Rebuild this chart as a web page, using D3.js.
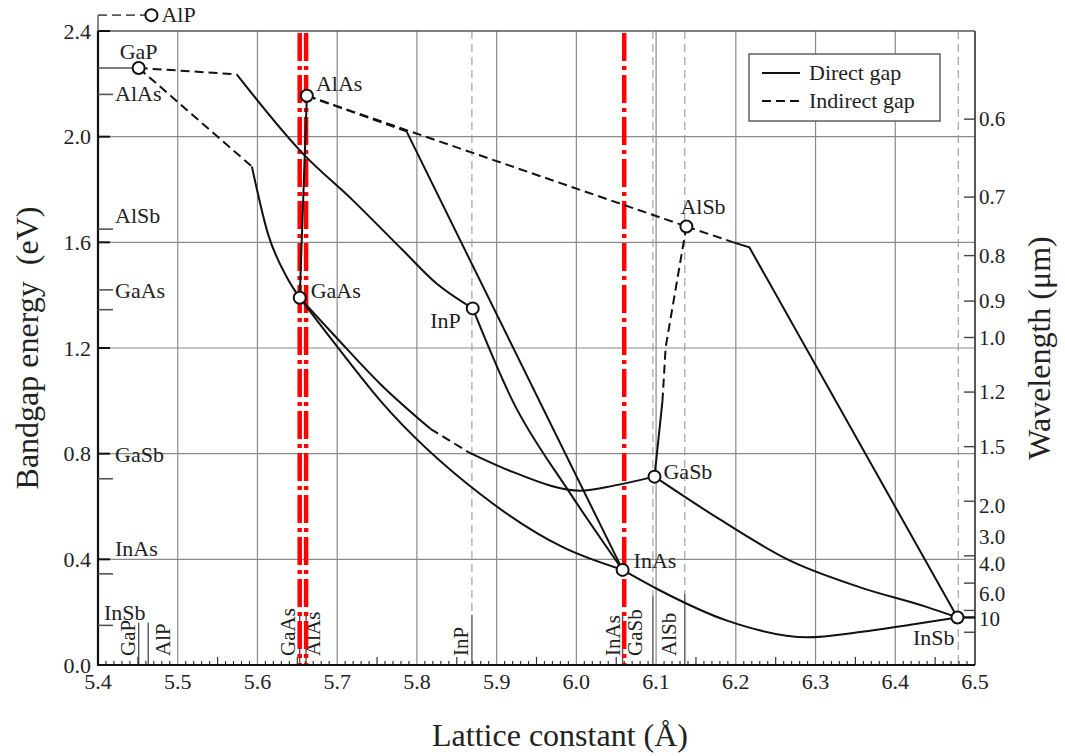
<!DOCTYPE html>
<html>
<head>
<meta charset="utf-8">
<script src="https://cdn.jsdelivr.net/npm/d3@7"></script>
<style>
  body { margin: 0; background: #fff; }
  text { font-family: "Liberation Serif", "Times New Roman", serif; fill: #222; }
</style>
</head>
<body>
<svg id="chart" width="1065" height="756"></svg>
<script>
// ---- axis ticks ----
const latticeTicks = [5.4, 5.5, 5.6, 5.7, 5.8, 5.9, 6.0, 6.1, 6.2, 6.3, 6.4, 6.5];
const latticeTickLabels = ["5.4", "5.5", "5.6", "5.7", "5.8", "5.9", "6.0", "6.1", "6.2", "6.3", "6.4", "6.5"];
const energyTicks = [0, 0.4, 0.8, 1.2, 1.6, 2.0, 2.4];
const energyTickLabels = ["0.0", "0.4", "0.8", "1.2", "1.6", "2.0", "2.4"];
const wavelengthTicks = [0.6, 0.7, 0.8, 0.9, 1.0, 1.2, 1.5, 2.0, 3.0, 4.0, 6.0, 10];
const wavelengthTickLabels = ["0.6", "0.7", "0.8", "0.9", "1.0", "1.2", "1.5", "2.0", "3.0", "4.0", "6.0", "10"];

// ---- binary compounds (lattice constant in Å, bandgap in eV) ----
const compoundNames = ["GaP", "AlP", "AlAs", "GaAs", "InP", "AlSb", "GaSb", "InAs", "InSb"];
const compoundLattice = [5.451, 5.467, 5.662, 5.653, 5.870, 6.138, 6.098, 6.058, 6.478];
const compoundGap = [2.26, 2.46, 2.155, 1.39, 1.35, 1.66, 0.713, 0.36, 0.18];

// ---- bandgap marks on the energy axis ----
const axisMarkNames = ["AlAs", "AlSb", "GaAs", "", "GaSb", "InAs", "InSb"];
const axisMarkGap = [2.16, 1.65, 1.42, 1.345, 0.705, 0.345, 0.15];

// ---- lattice-constant reference lines along the bottom ----
const refNames = ["GaP", "AlP", "GaAs", "AlAs", "InP", "InAs", "GaSb", "AlSb", "InSb"];
const refLattice = [5.451, 5.463, 5.653, 5.661, 5.869, 6.058, 6.096, 6.136, 6.479];

// ---- lattice-matching lines ----
const matchLattice = [5.653, 5.661, 6.06];

// ---- ternary alloy curves [lattice, gap] ----
const gaInP_indirect = [[5.451, 2.26], [5.574, 2.236]];
const gaInP_direct = [[5.574, 2.236], [5.657, 1.936], [5.720, 1.758], [5.783, 1.568], [5.825, 1.443], [5.870, 1.35]];
const gaAsP_indirect = [[5.451, 2.26], [5.593, 1.887]];
const gaAsP_direct = [[5.593, 1.887], [5.613, 1.634], [5.637, 1.467], [5.653, 1.39]];
const alGaAs_direct = [[5.653, 1.39], [5.662, 2.155]];
const alAsSb_indirect = [[5.662, 2.155], [6.138, 1.66]];
const alInAs_indirect = [[5.662, 2.155], [5.787, 2.02]];
const alInAs_direct = [[5.787, 2.02], [6.058, 0.36]];
const inGaAs_direct = [[5.653, 1.39], [5.70, 1.205], [5.754, 1.001], [5.879, 0.648], [5.983, 0.446], [6.058, 0.36]];
const gaAsSb_directA = [[5.653, 1.39], [5.70, 1.236], [5.754, 1.064], [5.817, 0.894]];
const gaAsSb_indirect = [[5.817, 0.894], [5.865, 0.805]];
const gaAsSb_directB = [[5.865, 0.805], [5.921, 0.730], [6.005, 0.660], [6.047, 0.679], [6.098, 0.713]];
const inAsP_direct = [[5.870, 1.35], [5.92, 1.0], [5.99, 0.66], [6.058, 0.36]];
const alGaSb_indirect = [[6.138, 1.66], [6.112, 1.203], [6.108, 1.0]];
const alGaSb_direct = [[6.108, 1.0], [6.098, 0.713]];
const alInSb_indirect = [[6.138, 1.66], [6.197, 1.60]];
const alInSb_direct = [[6.197, 1.60], [6.217, 1.581], [6.478, 0.18]];
const gaInSb_direct = [[6.098, 0.713], [6.18, 0.551], [6.268, 0.395], [6.356, 0.294], [6.44, 0.219], [6.478, 0.18]];
const inAsSb_direct = [[6.058, 0.36], [6.105, 0.282], [6.189, 0.168], [6.29, 0.105], [6.356, 0.125], [6.419, 0.152], [6.478, 0.18]];

const directCurves = [gaInP_direct, gaAsP_direct, alGaAs_direct, alInAs_direct, inGaAs_direct,
  gaAsSb_directA, gaAsSb_directB, inAsP_direct, alGaSb_direct, alInSb_direct, gaInSb_direct, inAsSb_direct];
const indirectCurves = [gaInP_indirect, gaAsP_indirect, alAsSb_indirect, alInAs_indirect,
  gaAsSb_indirect, alGaSb_indirect, alInSb_indirect];
// polylines drawn with straight segments (kinked, not smoothed)
const straightCurves = new Set([alInSb_direct, alGaSb_indirect, alGaSb_direct]);

// ---- drawing ----
const svg = d3.select("#chart");
const PL = 98, PR = 975, PT = 31, PB = 665;
const x = d3.scaleLinear().domain([5.4, 6.5]).range([PL, PR]);
const y = d3.scaleLinear().domain([0, 2.4]).range([PB, PT]);
const hc = 1.2398; // eV·µm
const FONT = 22;

// grid
const grid = svg.append("g");
grid.selectAll("line.v").data(latticeTicks.slice(1, -1)).join("line")
  .attr("x1", d => x(d)).attr("x2", d => x(d)).attr("y1", PT).attr("y2", PB)
  .attr("stroke", "#8a8a8a").attr("stroke-width", 1.2);
grid.selectAll("line.h").data(energyTicks.slice(1)).join("line")
  .attr("x1", PL).attr("x2", PR).attr("y1", d => y(d)).attr("y2", d => y(d))
  .attr("stroke", d => d === 2.4 ? "#555" : "#8a8a8a").attr("stroke-width", d => d === 2.4 ? 1.6 : 1.2);

// reference lines: short solid foot, dashed continuation for some compounds
const dashedUp = new Set(["InP", "GaSb", "AlSb", "InSb"]);
const footTop = { GaP: 0.16, AlP: 0.16, GaAs: 0.2, AlAs: 0.2, InP: 0.19, InAs: 0.2, GaSb: 0.26, AlSb: 0.27, InSb: 0 };
const refs = svg.append("g");
refNames.forEach((n, i) => {
  const xx = x(refLattice[i]);
  if (dashedUp.has(n)) {
    refs.append("line").attr("x1", xx).attr("x2", xx).attr("y1", PT).attr("y2", y(footTop[n]))
      .attr("stroke", "#9a9a9a").attr("stroke-width", 1.1).attr("stroke-dasharray", "8,5");
  }
  if (footTop[n] > 0) {
    refs.append("line").attr("x1", xx).attr("x2", xx).attr("y1", y(footTop[n])).attr("y2", PB)
      .attr("stroke", "#555").attr("stroke-width", 1.4);
  }
});
// rotated compound names at the bottom
const footLabelDx = { GaP: -4, AlP: 22, GaAs: -5, AlAs: 14, InP: -4, InAs: -3, GaSb: -11, AlSb: -9 };
refNames.forEach((n, i) => {
  if (!(n in footLabelDx)) return;
  const xx = x(refLattice[i]) + footLabelDx[n];
  refs.append("text").attr("transform", `translate(${xx},${PB - 9}) rotate(-90)`)
    .attr("font-size", 21).text(n);
});

// x-axis minor ticks
const minor = d3.range(0, 111).map(k => 5.4 + k * 0.01);
svg.append("g").selectAll("line").data(minor).join("line")
  .attr("x1", d => x(d)).attr("x2", d => x(d)).attr("y1", PB)
  .attr("y2", (d, k) => PB - (k % 10 === 0 ? 0 : (k % 5 === 0 ? 8 : 4)))
  .attr("stroke", "#333").attr("stroke-width", 1.2);

// right axis (wavelength)
svg.append("line").attr("x1", PR).attr("x2", PR).attr("y1", PT).attr("y2", PB)
  .attr("stroke", "#444").attr("stroke-width", 1.8);
svg.append("g").selectAll("line").data(wavelengthTicks).join("line")
  .attr("x1", PR - 11).attr("x2", PR).attr("y1", d => y(hc / d)).attr("y2", d => y(hc / d))
  .attr("stroke", "#444").attr("stroke-width", 1.4);
// crowded long-wavelength labels are spread upward
const wlNudge = { "2.0": 4, "3.0": -19, "4.0": -19, "6.0": -17, "10": -14 };
svg.append("g").selectAll("text").data(wavelengthTicks).join("text")
  .attr("x", PR + 4).attr("y", (d, i) => y(hc / d) + (wlNudge[wavelengthTickLabels[i]] || 0))
  .attr("dy", "0.35em").attr("font-size", 21).text((d, i) => wavelengthTickLabels[i]);

// lattice-matching lines
svg.append("g").selectAll("line").data(matchLattice).join("line")
  .attr("x1", d => x(d)).attr("x2", d => x(d)).attr("y1", PT + 2).attr("y2", PB)
  .attr("stroke", "#ff0000").attr("stroke-width", 4.5).attr("stroke-dasharray", "28,5,4,5");

// curves
const smooth = d3.line().x(d => x(d[0])).y(d => y(d[1])).curve(d3.curveMonotoneX);
const straight = d3.line().x(d => x(d[0])).y(d => y(d[1]));
const sortX = pts => pts.slice().sort((a, b) => a[0] - b[0]);
const pathOf = d => straightCurves.has(d) ? straight(d) : smooth(sortX(d));
svg.append("g").selectAll("path").data(directCurves).join("path")
  .attr("d", pathOf).attr("fill", "none").attr("stroke", "#111").attr("stroke-width", 2);
svg.append("g").selectAll("path").data(indirectCurves).join("path")
  .attr("d", pathOf).attr("fill", "none").attr("stroke", "#111").attr("stroke-width", 2)
  .attr("stroke-dasharray", "9,5");

// left and bottom axes
svg.append("line").attr("x1", PL).attr("x2", PL).attr("y1", PT).attr("y2", PB)
  .attr("stroke", "#111").attr("stroke-width", 2.2);
svg.append("line").attr("x1", PL - 1).attr("x2", PR).attr("y1", PB).attr("y2", PB)
  .attr("stroke", "#111").attr("stroke-width", 2.2);
svg.append("g").selectAll("line").data(energyTicks).join("line")
  .attr("x1", PL).attr("x2", PL + 12).attr("y1", d => y(d)).attr("y2", d => y(d))
  .attr("stroke", "#111").attr("stroke-width", 2);
svg.append("g").selectAll("text").data(energyTicks).join("text")
  .attr("x", PL - 7).attr("y", d => y(d)).attr("dy", "0.35em").attr("text-anchor", "end")
  .attr("font-size", FONT).text((d, i) => energyTickLabels[i]);
svg.append("g").selectAll("text").data(latticeTicks).join("text")
  .attr("x", d => x(d)).attr("y", PB + 24).attr("text-anchor", "middle")
  .attr("font-size", FONT).text((d, i) => latticeTickLabels[i]);

// bandgap marks on the energy axis
const markDy = { AlAs: 7, AlSb: -6, GaAs: 8, GaSb: -17, InAs: -18, InSb: -5 };
const markX = { InSb: 104 };
axisMarkGap.forEach((g, i) => {
  svg.append("line").attr("x1", PL).attr("x2", PL + 15).attr("y1", y(g)).attr("y2", y(g))
    .attr("stroke", "#555").attr("stroke-width", 1.6);
  const n = axisMarkNames[i];
  if (n) svg.append("text").attr("x", markX[n] || PL + 17).attr("y", y(g) + markDy[n])
    .attr("font-size", FONT).text(n);
});

// GaP and AlP level lines from the energy axis
const iGaP = compoundNames.indexOf("GaP"), iAlP = compoundNames.indexOf("AlP");
svg.append("line").attr("x1", PL).attr("x2", x(compoundLattice[iGaP]) - 6)
  .attr("y1", y(compoundGap[iGaP])).attr("y2", y(compoundGap[iGaP]))
  .attr("stroke", "#555").attr("stroke-width", 1.6);
svg.append("line").attr("x1", PL).attr("x2", PL).attr("y1", PT).attr("y2", y(compoundGap[iAlP]))
  .attr("stroke", "#555").attr("stroke-width", 1.4);
svg.append("line").attr("x1", PL).attr("x2", x(compoundLattice[iAlP]) - 6)
  .attr("y1", y(compoundGap[iAlP])).attr("y2", y(compoundGap[iAlP]))
  .attr("stroke", "#555").attr("stroke-width", 1.6).attr("stroke-dasharray", "9,5");
// InSb level line to the wavelength axis
const iInSb = compoundNames.indexOf("InSb");
svg.append("line").attr("x1", x(compoundLattice[iInSb])).attr("x2", PR)
  .attr("y1", y(compoundGap[iInSb])).attr("y2", y(compoundGap[iInSb]))
  .attr("stroke", "#111").attr("stroke-width", 2.4);

// compound markers and names
svg.append("g").selectAll("circle").data(compoundNames).join("circle")
  .attr("cx", (d, i) => x(compoundLattice[i])).attr("cy", (d, i) => y(compoundGap[i])).attr("r", 6)
  .attr("fill", "#fff").attr("stroke", "#111").attr("stroke-width", 2);
const namePlace = {
  GaP: [-19, -9, "start"], AlP: [10, 7, "start"], AlAs: [9, -5, "start"], GaAs: [11, 0, "start"],
  InP: [-12, 20, "end"], AlSb: [-6, -12, "start"], GaSb: [9, 2, "start"], InAs: [11, -2, "start"],
  InSb: [-3, 28, "end"]
};
compoundNames.forEach((n, i) => {
  const p = namePlace[n];
  svg.append("text").attr("x", x(compoundLattice[i]) + p[0]).attr("y", y(compoundGap[i]) + p[1])
    .attr("text-anchor", p[2]).attr("font-size", FONT).text(n);
});

// legend
const lg = svg.append("g");
lg.append("rect").attr("x", 749).attr("y", 54).attr("width", 191).attr("height", 67)
  .attr("fill", "#fff").attr("stroke", "#555").attr("stroke-width", 1.4);
lg.append("line").attr("x1", 762).attr("x2", 800).attr("y1", 73).attr("y2", 73)
  .attr("stroke", "#111").attr("stroke-width", 2);
lg.append("line").attr("x1", 762).attr("x2", 800).attr("y1", 101).attr("y2", 101)
  .attr("stroke", "#111").attr("stroke-width", 2).attr("stroke-dasharray", "9,5");
lg.append("text").attr("x", 809).attr("y", 80).attr("font-size", FONT).text("Direct gap");
lg.append("text").attr("x", 809).attr("y", 108).attr("font-size", FONT).text("Indirect gap");

// axis titles
svg.append("text").attr("transform", `translate(38,${(PT + PB) / 2}) rotate(-90)`)
  .attr("text-anchor", "middle").attr("font-size", 32).style("white-space", "pre")
  .text("Bandgap energy  (eV)");
svg.append("text").attr("x", 560).attr("y", 746).attr("text-anchor", "middle")
  .attr("font-size", 32).text("Lattice constant (Å)");
svg.append("text").attr("transform", `translate(1050,${(PT + PB) / 2}) rotate(-90)`)
  .attr("text-anchor", "middle").attr("font-size", 32).text("Wavelength (μm)");
</script>
</body>
</html>
